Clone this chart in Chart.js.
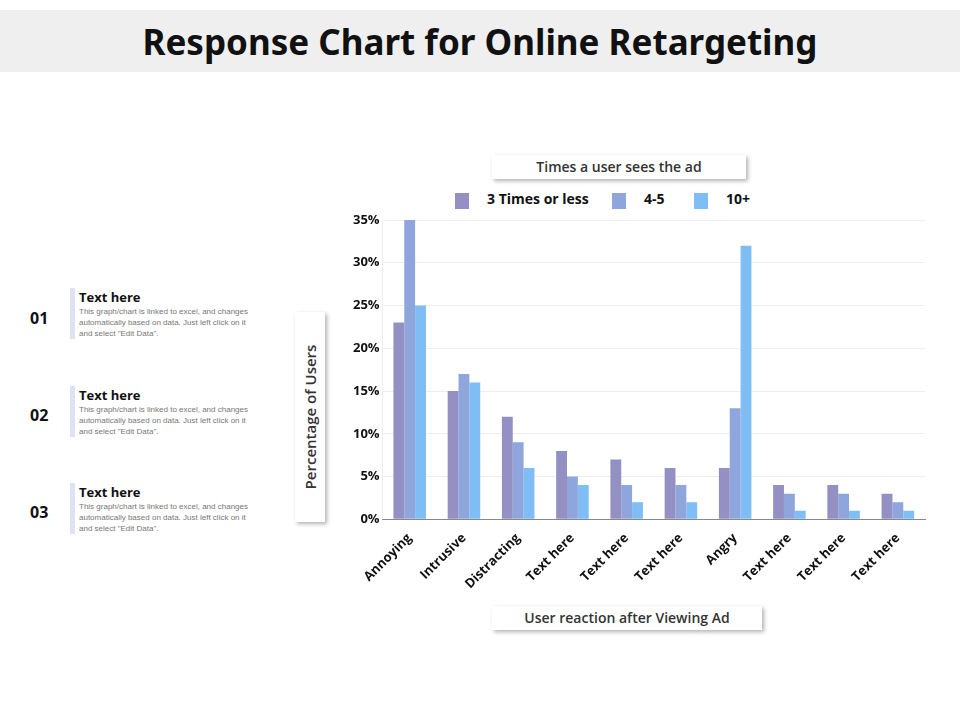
<!DOCTYPE html>
<html>
<head>
<meta charset="utf-8">
<script src="https://cdn.jsdelivr.net/npm/chart.js@4"></script>
<style>
  body { margin: 0; width: 960px; height: 720px; background: #fff; font-family: "Open Sans", Arial, sans-serif; position: relative; overflow: hidden; }
  .banner { position: absolute; left: 0; top: 10px; width: 960px; height: 62px; background: #efefef; text-align: center; font-size: 35px; font-weight: bold; line-height: 64px; color: #111; font-family: "Noto Sans", sans-serif; }
  .box { position: absolute; background: #fff; box-shadow: 2px 2px 4px rgba(0,0,0,0.3); font-weight: 600; color: #333; text-align: center; }
  .num { position: absolute; left: 30px; font-size: 16px; font-weight: bold; color: #111; }
  .item { position: absolute; left: 70px; width: 180px; border-left: 5px solid #dfe2f2; padding-left: 4px; }
  .item b { display: block; font-size: 13px; color: #111; }
  .item span { display: block; font-size: 8px; color: #777; line-height: 11px; font-family: Arial, sans-serif; }
  .leg { position: absolute; top: 189px; font-size: 14px; font-weight: bold; color: #111; }
  .sw { position: absolute; top: 193px; width: 14px; height: 16px; }
  #wrap { position: absolute; left: 350px; top: 207px; width: 590px; height: 388px; }
</style>
</head>
<body>
<div class="banner">Response Chart for Online Retargeting</div>

<div class="num" style="top:307px">01</div>
<div class="item" style="top:288px"><b>Text here</b><span>This graph/chart is linked to excel, and changes automatically based on data. Just left click on it and select "Edit Data".</span></div>
<div class="num" style="top:404px">02</div>
<div class="item" style="top:386px"><b>Text here</b><span>This graph/chart is linked to excel, and changes automatically based on data. Just left click on it and select "Edit Data".</span></div>
<div class="num" style="top:501px">03</div>
<div class="item" style="top:483px"><b>Text here</b><span>This graph/chart is linked to excel, and changes automatically based on data. Just left click on it and select "Edit Data".</span></div>

<div class="box" style="left:492px;top:155px;width:254px;height:24px;line-height:24px;font-size:14px">Times a user sees the ad</div>
<div class="sw" style="left:455px;background:#9490c4"></div><div class="leg" style="left:487px">3 Times or less</div>
<div class="sw" style="left:612px;background:#8fa6dc"></div><div class="leg" style="left:644px">4-5</div>
<div class="sw" style="left:694px;background:#7fbdf5"></div><div class="leg" style="left:726px">10+</div>

<div class="box" style="left:295px;top:312px;width:30px;height:210px;"><div style="position:absolute;left:-90px;top:93px;width:210px;transform:rotate(-90deg);font-size:15px;line-height:24px">Percentage of Users</div></div>
<div class="box" style="left:492px;top:606px;width:270px;height:24px;line-height:24px;font-size:14px">User reaction after Viewing Ad</div>

<div id="wrap"><canvas id="c"></canvas></div>
<script>
const categories = ['Annoying', 'Intrusive', 'Distracting', 'Text here', 'Text here', 'Text here', 'Angry', 'Text here', 'Text here', 'Text here'];
const threeOrLess = [23, 15, 12, 8, 7, 6, 6, 4, 4, 3];
const fourToFive = [35, 17, 9, 5, 4, 4, 13, 3, 3, 2];
const tenPlus = [25, 16, 6, 4, 2, 2, 32, 1, 1, 1];
const yTicks = [0, 5, 10, 15, 20, 25, 30, 35];

new Chart(document.getElementById('c'), {
  type: 'bar',
  data: {
    labels: categories,
    datasets: [
      { label: '3 Times or less', data: threeOrLess, backgroundColor: '#9490c4' },
      { label: '4-5', data: fourToFive, backgroundColor: '#8fa6dc' },
      { label: '10+', data: tenPlus, backgroundColor: '#7fbdf5' }
    ]
  },
  options: {
    responsive: true,
    maintainAspectRatio: false,
    animation: false,
    layout: { padding: { top: 13, right: 15 } },
    plugins: { legend: { display: false }, tooltip: { enabled: false } },
    datasets: { bar: { categoryPercentage: 0.6, barPercentage: 1 } },
    scales: {
      y: {
        min: 0, max: 35,
        afterBuildTicks: axis => { axis.ticks = yTicks.map(v => ({ value: v })); },
        ticks: { callback: v => v + '%', color: '#111', font: { size: 13, weight: 'bold', family: 'Open Sans' } },
        grid: { color: '#eeeeee', drawTicks: false },
        border: { display: true, color: '#eeeeee' }
      },
      x: {
        ticks: { maxRotation: 45, minRotation: 45, color: '#111', font: { size: 13, weight: 'bold', family: 'Open Sans' } },
        grid: { display: false },
        border: { color: '#888' }
      }
    }
  }
});
</script>
</body>
</html>
